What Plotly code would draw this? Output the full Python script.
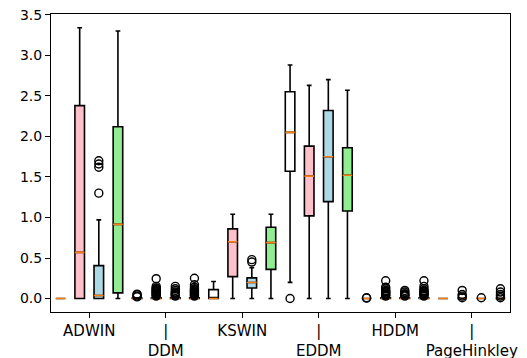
import plotly.graph_objects as go

methods = ["ADWIN", "DDM", "KSWIN", "EDDM", "HDDM", "PageHinkley"]
tick_labels = ["ADWIN", "|<br>DDM", "KSWIN", "|<br>EDDM", "HDDM", "|<br>PageHinkley"]

# series 1 (white)
s1_q1 = [0, 0, 0, 1.57, 0, 0]
s1_med = [0, 0, 0, 2.05, 0, 0]
s1_q3 = [0, 0.005, 0.11, 2.55, 0.0, 0]
s1_lo = [0, 0, 0, 0.20, 0, 0]
s1_hi = [0, 0.01, 0.21, 2.88, 0.0, 0]
s1_fl = [[], [0.02, 0.03, 0.045, 0.055], [], [0.0], [0.005, 0.01], []]

# series 2 (pink)
s2_q1 = [0, 0, 0.27, 1.02, 0, 0]
s2_med = [0.57, 0, 0.70, 1.51, 0, 0]
s2_q3 = [2.38, 0.01, 0.86, 1.88, 0.01, 0]
s2_lo = [0, 0, 0, 0, 0, 0]
s2_hi = [3.34, 0.02, 1.04, 2.63, 0.02, 0]
s2_fl = [[], [0.03, 0.04, 0.05, 0.06, 0.07, 0.08, 0.09, 0.10, 0.11, 0.12, 0.13, 0.15, 0.245],
         [], [], [0.03, 0.04, 0.05, 0.06, 0.07, 0.08, 0.09, 0.10, 0.12, 0.14, 0.22],
         [0.01, 0.03, 0.05, 0.10]]

# series 3 (light blue)
s3_q1 = [0, 0, 0.13, 1.195, 0, 0]
s3_med = [0.037, 0, 0.197, 1.75, 0, 0]
s3_q3 = [0.406, 0.01, 0.255, 2.32, 0.01, 0]
s3_lo = [0, 0, 0, 0, 0, 0]
s3_hi = [0.97, 0.02, 0.38, 2.70, 0.02, 0]
s3_fl = [[1.30, 1.62, 1.66, 1.70], [0.03, 0.04, 0.05, 0.06, 0.07, 0.08, 0.10, 0.12, 0.15],
         [0.45, 0.48], [], [0.03, 0.04, 0.05, 0.06, 0.08, 0.10], [0.01]]

# series 4 (light green)
s4_q1 = [0.07, 0, 0.36, 1.08, 0, 0]
s4_med = [0.915, 0, 0.69, 1.52, 0, 0]
s4_q3 = [2.12, 0.01, 0.88, 1.86, 0.01, 0]
s4_lo = [0, 0, 0, 0, 0, 0]
s4_hi = [3.30, 0.02, 1.04, 2.57, 0.02, 0]
s4_fl = [[], [0.03, 0.04, 0.05, 0.06, 0.07, 0.08, 0.09, 0.10, 0.11, 0.12, 0.14, 0.17, 0.25],
         [], [], [0.03, 0.04, 0.05, 0.06, 0.07, 0.08, 0.09, 0.10, 0.12, 0.15, 0.22],
         [0.01, 0.03, 0.05, 0.08, 0.12]]

series = [
    ("white", s1_q1, s1_med, s1_q3, s1_lo, s1_hi, s1_fl),
    ("pink", s2_q1, s2_med, s2_q3, s2_lo, s2_hi, s2_fl),
    ("lightblue", s3_q1, s3_med, s3_q3, s3_lo, s3_hi, s3_fl),
    ("lightgreen", s4_q1, s4_med, s4_q3, s4_lo, s4_hi, s4_fl),
]

n_series = len(series)
fig = go.Figure()
tick_pos = []
for g in range(len(methods)):
    tick_pos.append(g * n_series + (n_series + 1) / 2)

# boxes
for k, (color, q1, med, q3, lo, hi, fl) in enumerate(series):
    xs = [g * n_series + k + 1 for g in range(len(methods))]
    fig.add_trace(go.Box(
        x=xs, q1=q1, median=med, q3=q3, lowerfence=lo, upperfence=hi,
        width=0.5, whiskerwidth=0.5, fillcolor=color,
        line=dict(color="black", width=1.6), boxpoints=False,
        showlegend=False, hoverinfo="skip"))

# fliers
for k, (color, q1, med, q3, lo, hi, fl) in enumerate(series):
    fx, fy = [], []
    for g in range(len(methods)):
        for v in fl[g]:
            fx.append(g * n_series + k + 1)
            fy.append(v)
    fig.add_trace(go.Scatter(
        x=fx, y=fy, mode="markers",
        marker=dict(symbol="circle-open", size=8, color="black", line=dict(width=1.4)),
        showlegend=False, hoverinfo="skip"))

# medians (orange)
for k, (color, q1, med, q3, lo, hi, fl) in enumerate(series):
    xs = [g * n_series + k + 1 for g in range(len(methods))]
    fig.add_trace(go.Box(
        x=xs, q1=med, median=med, q3=med, lowerfence=med, upperfence=med,
        width=0.5, whiskerwidth=0, fillcolor="rgba(0,0,0,0)",
        line=dict(color="#ff7f0e", width=1.6), boxpoints=False,
        showlegend=False, hoverinfo="skip"))

fig.update_layout(
    width=527, height=358,
    margin=dict(l=51, r=17, t=14, b=46),
    paper_bgcolor="white", plot_bgcolor="white",
    boxmode="overlay",
    font=dict(family="DejaVu Sans", color="black"),
)
fig.update_xaxes(
    range=[0.5, 24.5], tickmode="array", tickvals=tick_pos, ticktext=tick_labels,
    showline=True, mirror=True, linecolor="black", linewidth=1,
    ticks="outside", ticklen=5, tickcolor="black", tickwidth=1,
    showgrid=False, zeroline=False, tickfont=dict(size=15), automargin=False,
)
fig.update_yaxes(
    range=[-0.166, 3.51], tickmode="array",
    tickvals=[0, 0.5, 1.0, 1.5, 2.0, 2.5, 3.0, 3.5],
    ticktext=["0.0", "0.5", "1.0", "1.5", "2.0", "2.5", "3.0", "3.5"],
    showline=True, mirror=True, linecolor="black", linewidth=1,
    ticks="outside", ticklen=5, tickcolor="black", tickwidth=1,
    showgrid=False, zeroline=False, tickfont=dict(size=14), automargin=False,
)

fig.write_html("out.html", config={"displayModeBar": False},
               post_script="document.body.style.margin='0px';")
